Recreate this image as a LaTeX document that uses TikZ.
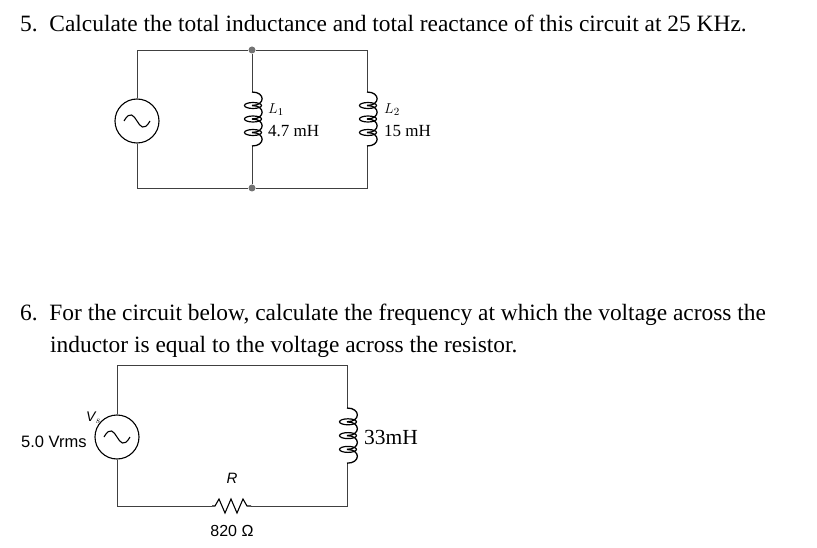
\documentclass[tikz,border=0pt]{standalone}
\usepackage{fontspec}
\setmainfont{Liberation Serif}
\newfontfamily\lsans{Liberation Sans}
\usetikzlibrary{calc}
\begin{document}
\begin{tikzpicture}[x=1pt,y=-1pt,
  wire/.style={line width=0.9pt,draw=black!75},
  src/.style={circle,draw,line width=1.1pt,minimum size=44pt,inner sep=0pt},
  dot/.style={circle,fill=black!55,minimum size=7pt,inner sep=0pt},
  lab/.style={inner sep=0pt,anchor=west,font=\fontsize{17}{17}\selectfont},
  title/.style={inner sep=0pt,anchor=base west,font=\fontsize{23.4}{24}\selectfont}]
\useasboundingbox (0,0) rectangle (817,548);
\fill[white] (0,0) rectangle (817,548);
\newcommand\sine[1]{\draw[line width=1.1pt] ($(#1.center)+(-13,0)$) .. controls ($(#1.center)+(-7,-11)$) and ($(#1.center)+(-3,-5)$) .. ($(#1.center)$) .. controls ($(#1.center)+(3,5)$) and ($(#1.center)+(7,11)$) .. ($(#1.center)+(13,0)$);}
\newcommand\coil[3]{% x, ytop, bump height
  \foreach \i in {0,1,2,3}{
    \draw[line width=1.3pt] (#1,{#2+\i*#3}) .. controls (#1+#3*1.0,{#2+\i*#3}) and (#1+#3*1.0,{#2+(\i+1)*#3}) .. (#1,{#2+(\i+1)*#3});
  }
  \foreach \i in {1,2,3}{
    \draw[line width=1.2pt] (#1+1,{#2+\i*#3}) ellipse[x radius=8.5,y radius=3];
  }}
\node[title] (t5) at (20,32) {5.\ \ Calculate the total inductance and total reactance of this circuit at 25 KHz.};
\node[title] (t6a) at (20,320) {6.\ \ For the circuit below, calculate the frequency at which the voltage across the};
\node[title] (t6b) at (50,352) {inductor is equal to the voltage across the resistor.};
% circuit 1
\node[src] (s1) at (137,121) {};
\sine{s1}
\node[dot] (j1) at (252,50) {};
\node[dot] (j2) at (252,188) {};
\coordinate (a1) at (137,50); \coordinate (a2) at (137,188);
\coordinate (b1) at (367,50); \coordinate (b2) at (367,188);
\draw[wire] (s1.north) -- (a1) -- (j1) -- (b1) -- (367,92);
\draw[wire] (s1.south) -- (a2) -- (j2) -- (b2) -- (367,146);
\draw[wire] (j1) -- (252,92); \draw[wire] (j2) -- (252,146);
\coil{252}{92}{13.5}
\coil{367}{92}{13.5}
\node[lab,font=\fontsize{15}{15}\itshape] (l1) at (268,110) {$L_{\mathrm{1}}$};
\node[lab] (v1) at (268,131) {4.7 mH};
\node[lab,font=\fontsize{15}{15}\itshape] (l2) at (384,110) {$L_{2}$};
\node[lab] (v2) at (384,131) {15 mH};
% circuit 2
\node[src] (s2) at (117,437) {};
\sine{s2}
\coordinate (c1) at (117,365); \coordinate (c2) at (347,365);
\coordinate (c3) at (117,506); \coordinate (c4) at (347,506);
\coordinate (r1) at (212,506); \coordinate (r2) at (251,506);
\draw[wire] (s2.north) -- (c1) -- (c2) -- (347,408);
\draw[wire] (s2.south) -- (c3) -- (r1);
\draw[wire] (r2) -- (c4) -- (347,463);
\draw[line width=1.1pt] (r1) -- (215,506) -- (219,499) -- (225,513) -- (231,499) -- (237,513) -- (243,499) -- (247,506) -- (r2);
\coil{347}{408}{13.8}
\node[lab,font=\lsans\fontsize{14}{14}\itshape] (vs) at (86,418) {V$_s$};
\node[lab,font=\lsans\fontsize{16.5}{16}\selectfont] (vv) at (21,442) {5.0 Vrms};
\node[lab,font=\fontsize{21.5}{21}\selectfont] (lv) at (364,437) {33mH};
\node[inner sep=0pt,font=\lsans\fontsize{15}{15}\itshape] (rl) at (232,478) {R};
\node[inner sep=0pt,font=\lsans\fontsize{16}{16}\selectfont] (rv) at (232,531) {820 Ω};
\end{tikzpicture}
\end{document}
